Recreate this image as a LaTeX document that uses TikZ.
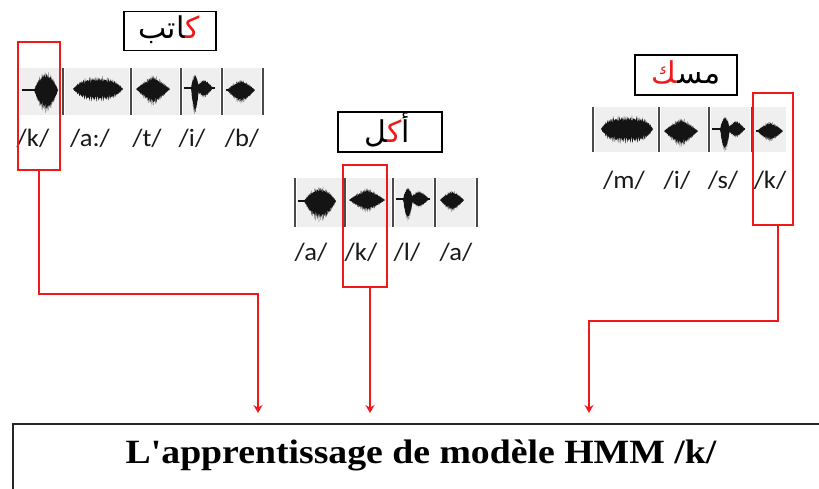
\documentclass[tikz,border=0pt]{standalone}
\usepackage{fontspec}
\usetikzlibrary{arrows.meta}
\TeXXeTstate=1
\newfontfamily\arfont[Script=Arabic]{DejaVu Sans}
\newfontfamily\labfont{Carlito}
\newfontfamily\capfont[Ligatures=TeXOff]{Liberation Serif}
\newcommand\zj{\char"200D\relax}
\definecolor{wavebg}{HTML}{EFEFEF}
\definecolor{wavecol}{HTML}{141414}
\definecolor{divcol}{HTML}{4A4A4A}
\definecolor{kred}{HTML}{F01818}

% jagged speech envelope: centre x, centre y, half width, height up, height down, shape exponent
\newcommand\wblob[6]{%
  \fill[wavecol] plot[domain=-1:1,samples=80]
    ({#1+#3*\x},{#2-#4*(1-abs(\x)^#6)*(0.56+0.24*abs(sin(\x*2300))+0.2*sin(\x*6100+20))})
    -- plot[domain=1:-1,samples=80]
    ({#1+#3*\x},{#2+#5*(1-abs(\x)^#6)*(0.55+0.27*abs(sin(\x*1900+40))+0.18*sin(\x*5300+70))}) -- cycle;}
% thin horizontal trace of the signal
\newcommand\wline[3]{\fill[wavecol] (#1,#3-1.3) rectangle (#2,#3+1.3);}

\tikzset{
  titlebox/.style={draw=black, line width=1.8pt, inner sep=0pt},
  kbox/.style={draw=kred, line width=1.8pt, inner sep=0pt},
  link/.style={draw=kred, line width=1.5pt, -{Stealth[length=8pt,width=9pt]}, shorten >=10pt},
  lab/.style={font=\labfont\fontsize{25}{28}\selectfont, inner sep=0pt, text=black!90, xscale=1.06},
  artext/.style={font=\arfont\fontsize{30}{34}\selectfont, inner sep=0pt},
  divider/.style={draw=divcol, line width=1.4pt},
}

\begin{document}
\begin{tikzpicture}[x=1pt,y=-1pt]
\useasboundingbox (0,0) rectangle (819,488);
\clip (0,0) rectangle (819,488);
\fill[white] (0,0) rectangle (819,488);

% ---------- word 1 : kaatib ----------
\node[titlebox, minimum width=92pt, minimum height=39pt] (w1) at (170,31) {};
\node[artext] (w1t) at (169,30) {\hbox{{\arfont\beginR\zj اتب\endR}{\color{kred}\arfont\beginR ك\zj\endR}}};
\foreach \a/\b in {18/63,63/131,131/181,181/222,222/263}
  \fill[wavebg] (\a+2,68) rectangle (\b-2,115);
\foreach \a in {18,63,131,181,222,263}
  \draw[divider] (\a,68) -- (\a,115);
\wline{22}{40}{90}
\wblob{46}{90}{12}{19}{23}{2}
\wblob{98}{89}{25}{13}{13}{3}
\wblob{153}{89}{17}{15}{18}{1.2}
\wline{184}{215}{88}
\wblob{195}{88}{4}{14}{26}{2}
\wblob{204}{88}{9}{9}{10}{1.5}
\wline{226}{240}{90}
\wblob{241}{90}{14}{11}{14}{1.5}
\node[lab] (p11) at (33,138) {/k/};
\node[lab] (p12) at (90,138) {/a:/};
\node[lab] (p13) at (147,138) {/t/};
\node[lab] (p14) at (192,138) {/i/};
\node[lab] (p15) at (242,138) {/b/};

% ---------- word 2 : akala ----------
\node[titlebox, minimum width=104pt, minimum height=40pt] (w2) at (390,132) {};
\node[artext] (w2t) at (387,130) {\hbox{{\arfont\beginR\zj ل\endR}{\color{kred}\arfont\beginR ك\zj\endR}{\arfont\beginR أ\endR}}};
\foreach \a/\b in {295/345,345/393,393/435,435/477}
  \fill[wavebg] (\a+2,178) rectangle (\b-2,227);
\foreach \a in {295,345,393,435,477}
  \draw[divider] (\a,178) -- (\a,227);
\wline{298}{310}{201}
\wblob{320}{201}{16}{15}{21}{2}
\wblob{367}{200}{18}{13}{13}{1.3}
\wline{396}{430}{199}
\wblob{408}{199}{5}{12}{22}{2}
\wblob{419}{199}{10}{9}{9}{1.5}
\wblob{452}{200}{12}{10}{12}{1.5}
\node[lab] (p21) at (311,252) {/a/};
\node[lab] (p22) at (361,252) {/k/};
\node[lab] (p23) at (407,252) {/l/};
\node[lab] (p24) at (456,252) {/a/};

% ---------- word 3 : massaka ----------
\node[titlebox, minimum width=102pt, minimum height=40pt] (w3) at (686,75) {};
\node[artext] (w3t) at (686,73) {\hbox{{\color{kred}\arfont\beginR\zj ك\endR}{\arfont\beginR مس\zj\endR}}};
\foreach \a/\b in {593/659,659/709,709/752,752/788}
  \fill[wavebg] (\a+2,107) rectangle (\b-2,152);
\foreach \a in {593,659,709,752}
  \draw[divider] (\a,107) -- (\a,152);
\wblob{627}{129}{26}{14}{15}{4}
\wblob{681}{131}{17}{14}{17}{1.3}
\wline{712}{745}{129}
\wblob{725}{129}{5}{13}{23}{2}
\wblob{736}{129}{9}{9}{9}{1.5}
\wline{756}{768}{131}
\wblob{770}{131}{13}{10}{11}{1.5}
\node[lab] (p31) at (624,180) {/m/};
\node[lab] (p32) at (677,180) {/i/};
\node[lab] (p33) at (723,180) {/s/};
\node[lab] (p34) at (770,180) {/k/};

% ---------- highlighted /k/ segments ----------
\node[kbox, minimum width=42pt, minimum height=128pt] (k1) at (39,106) {};
\node[kbox, minimum width=44pt, minimum height=122pt] (k2) at (365,226) {};
\node[kbox, minimum width=40pt, minimum height=132pt] (k3) at (773,159) {};

% ---------- training box ----------
\node[draw=black!85, line width=2.2pt, minimum width=840pt, minimum height=90pt,
      anchor=north west, inner sep=0pt] (hmm) at (12,423) {};
\node[font=\capfont\bfseries\fontsize{34}{38}\selectfont, inner sep=0pt, anchor=base, xscale=1.11]
  (cap) at (421,463) {L'apprentissage de modèle HMM /k/};

% ---------- connectors ----------
\coordinate (j1) at (258,294);
\coordinate (j2) at (370,300);
\coordinate (s3) at (778,0);
\coordinate (j3) at (589,321);
\draw[link] (k1.south) |- (j1) -- (j1 |- hmm.north);
\draw[link] (k2.south -| j2) -- (j2 |- hmm.north);
\draw[link] (k3.south -| s3) |- (j3) -- (j3 |- hmm.north);
\end{tikzpicture}
\end{document}
